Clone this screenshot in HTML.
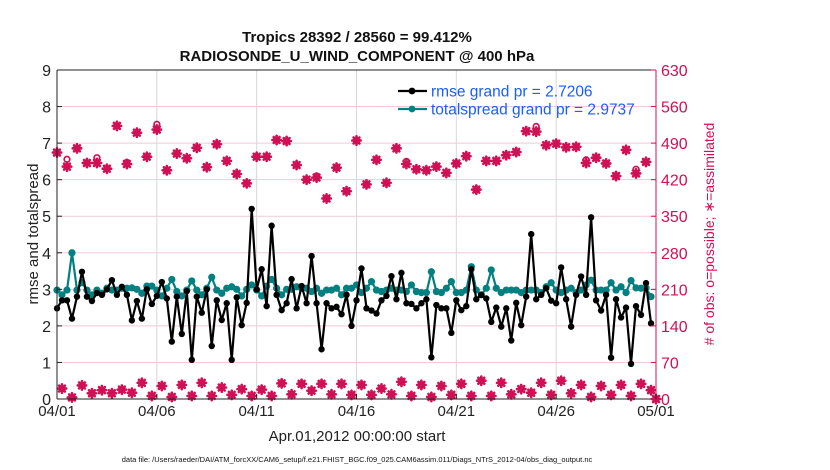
<!DOCTYPE html>
<html><head><meta charset="utf-8"><style>
html,body{margin:0;padding:0;background:#fff;}
svg{display:block;font-family:"Liberation Sans",Arial,sans-serif;}
</style></head><body>
<svg id="chart" width="830" height="470" viewBox="0 0 830 470" xmlns="http://www.w3.org/2000/svg">
<text x="357" y="42" text-anchor="middle" font-size="15" font-weight="bold" fill="#111">Tropics 28392 / 28560 = 99.412%</text>
<text x="357" y="61" text-anchor="middle" font-size="15" font-weight="bold" fill="#111">RADIOSONDE_U_WIND_COMPONENT @ 400 hPa</text>
<g id="grid"></g>
<g id="marks"></g>
<g id="axes"></g>
<text transform="translate(38,234) rotate(-90)" text-anchor="middle" font-size="15" fill="#222">rmse and totalspread</text>
<text transform="translate(714,234) rotate(-90)" text-anchor="middle" font-size="14" fill="#d01055"># of obs: o=possible; ∗=assimilated</text>
<text x="357" y="441" text-anchor="middle" font-size="15" fill="#222">Apr.01,2012 00:00:00 start</text>
<text x="357" y="462" text-anchor="middle" font-size="7.5" fill="#111">data file: /Users/raeder/DAI/ATM_forcXX/CAM6_setup/f.e21.FHIST_BGC.f09_025.CAM6assim.011/Diags_NTrS_2012-04/obs_diag_output.nc</text>
<g id="legend"></g>
</svg>
<script>
const xTickLabels = ["04/01","04/06","04/11","04/16","04/21","04/26","05/01"];
const xTickDays = [0,5,10,15,20,25,30];
const yTicks = [0,1,2,3,4,5,6,7,8,9];
const rTicks = [0,70,140,210,280,350,420,490,560,630];
const rmse = [
2.48,2.7,2.7,2.2,2.8,3.48,2.8,2.68,2.9,2.85,
3.0,3.25,2.85,3.07,2.85,2.15,2.68,2.2,3.0,2.6,
2.82,3.2,2.75,1.57,2.8,1.78,2.95,1.07,2.8,2.36,
3.0,1.45,2.7,2.16,2.62,1.07,2.78,2.02,2.63,5.2,
3.0,3.55,2.54,4.74,2.85,2.43,2.62,3.28,2.48,3.09,
2.62,3.91,2.62,1.36,2.62,2.48,2.52,2.32,2.85,2.0,
2.7,3.57,2.48,2.42,2.34,2.7,2.82,3.36,2.73,3.45,
2.62,2.6,2.48,2.62,2.73,1.14,2.57,2.48,2.48,1.81,
2.7,2.43,2.54,3.55,2.73,2.85,2.75,2.11,2.5,1.98,
2.48,1.6,2.63,2.02,2.8,4.51,2.73,2.85,3.03,2.69,
2.62,3.6,2.73,1.98,2.85,3.35,2.85,4.97,2.7,2.42,
2.85,1.13,2.73,2.23,2.5,0.96,2.54,2.3,3.17,2.07];
const spread = [
2.98,2.85,2.98,4.0,2.98,3.18,2.98,2.85,2.98,2.89,
3.03,2.98,2.98,3.03,3.03,3.04,3.0,2.89,3.09,3.09,
2.98,2.82,3.03,3.27,2.94,2.82,2.98,3.23,2.98,2.85,
3.03,3.33,2.98,2.89,3.03,3.07,3.0,2.82,3.0,3.12,
2.98,2.82,3.09,3.27,3.03,2.85,3.0,3.0,3.07,3.03,
3.03,2.94,3.03,2.89,2.98,2.98,3.03,2.85,3.03,3.03,
3.12,2.91,3.03,3.21,2.98,2.94,2.98,3.03,2.98,2.98,
2.94,3.12,2.94,2.91,2.91,3.48,2.94,2.91,3.03,3.21,
2.91,2.91,2.98,3.62,2.98,2.85,3.03,3.53,3.03,2.91,
2.98,2.98,2.98,2.91,2.98,2.98,2.98,2.91,3.07,3.18,
2.98,2.91,2.98,3.03,2.91,2.98,3.12,3.25,2.98,2.98,
2.98,3.18,2.98,3.07,2.91,3.24,3.04,3.03,3.04,2.8];
const assimilated = [
472,20,445,3,480,26,452,11,452,17,441,11,523,18,450,12,510,31,464,6,
516,25,438,4,470,27,461,6,481,31,444,6,488,22,456,8,431,19,413,6,
464,18,464,6,496,30,494,9,448,29,420,16,424,29,384,9,443,29,398,8,
495,27,411,8,458,20,414,9,480,33,450,6,440,27,438,4,445,25,433,8,
451,29,465,6,401,35,456,6,456,31,467,9,473,19,513,12,512,31,486,8,
489,35,482,11,483,27,452,4,462,25,451,8,427,27,477,6,432,29,454,17,0];
const possible = [
472,20,459,3,480,26,452,11,462,17,441,11,523,18,453,12,510,31,464,6,
526,25,438,4,470,27,461,6,481,31,444,6,488,22,456,8,431,19,413,6,
464,18,464,6,496,30,494,9,448,29,420,16,427,29,384,9,443,29,398,8,
495,27,411,8,458,20,414,9,480,33,455,6,440,27,438,4,445,25,433,8,
451,29,465,6,401,35,456,6,456,31,467,9,473,19,513,12,522,31,486,8,
489,35,482,11,483,27,458,4,462,25,451,8,427,27,477,6,440,29,454,17,0];

const X0=57, X1=656, Y0=399, Y1=70, NS="http://www.w3.org/2000/svg";
const MAG="#d01055", TEAL="#008080";
function xDay(d){return X0+(X1-X0)*d/30;}
function xIdx(i){return xDay(i*0.25);}
function yL(v){return Y0-(Y0-Y1)*v/9;}
function yR(c){return Y0-(Y0-Y1)*c/630;}
function mk(tag,attrs,parent){const e=document.createElementNS(NS,tag);for(const k in attrs)e.setAttribute(k,attrs[k]);parent.appendChild(e);return e;}
const grid=document.getElementById('grid'), marks=document.getElementById('marks'), axes=document.getElementById('axes'), legend=document.getElementById('legend');

yTicks.forEach(v=>{ if(v>0&&v<9){const l=mk('line',{x1:X0,x2:X1,y1:yL(v),y2:yL(v),stroke:'#f4c8d8','stroke-width':1},grid);

}});
xTickDays.forEach(d=>{ if(d>0&&d<30){const l=mk('line',{x1:xDay(d),x2:xDay(d),y1:Y1,y2:Y0,stroke:'#d8d8d8','stroke-width':1},grid);

}});

function star(cx,cy,parent){const g=mk('g',{stroke:MAG,'stroke-width':2.6,'stroke-linecap':'round'},parent);


const r=4.2;[[r,0],[0,r],[r*0.7,r*0.7],[r*0.7,-r*0.7]].forEach(p=>mk('line',{x1:cx-p[0],y1:cy-p[1],x2:cx+p[0],y2:cy+p[1]},g));}
possible.forEach((c,i)=>{const e=mk('circle',{cx:xIdx(i),cy:yR(c),r:2.8,fill:'none',stroke:MAG,'stroke-width':1.7},marks);

});
assimilated.forEach((c,i)=>star(xIdx(i),yR(c),marks));

function series(vals,color,name,sq){
 const pts=vals.map((v,i)=>xIdx(i).toFixed(1)+','+yL(v).toFixed(1)).join(' ');
 const pl=mk('polyline',{points:pts,fill:'none',stroke:color,'stroke-width':2.2,'stroke-linejoin':'round'},marks);
 
 
 vals.forEach((v,i)=>{const c=mk('circle',{cx:xIdx(i),cy:yL(v),r:sq?3.6:3.2,fill:color},marks);
 
 });
}
series(spread,TEAL,'totalspread',true);
series(rmse,'#000','rmse',false);

mk('line',{x1:X0,y1:Y1,x2:X0,y2:Y0,stroke:'#222','stroke-width':1},axes);
mk('line',{x1:X0,y1:Y1,x2:X1,y2:Y1,stroke:'#222','stroke-width':1},axes);
mk('line',{x1:X0,y1:Y0,x2:X1,y2:Y0,stroke:'#222','stroke-width':1},axes);
mk('line',{x1:X1,y1:Y1,x2:X1,y2:Y0,stroke:MAG,'stroke-width':1},axes);
yTicks.forEach(v=>{mk('line',{x1:X0,x2:X0+5,y1:yL(v),y2:yL(v),stroke:'#222'},axes);
const t=mk('text',{x:X0-6,y:yL(v)+6,'text-anchor':'end','font-size':16,fill:'#222'},axes);t.textContent=v;

});
rTicks.forEach(c=>{mk('line',{x1:X1-5,x2:X1,y1:yR(c),y2:yR(c),stroke:MAG},axes);
const t=mk('text',{x:X1+5,y:yR(c)+6,'text-anchor':'start','font-size':16,fill:MAG},axes);t.textContent=c;

});
xTickDays.forEach((d,k)=>{mk('line',{x1:xDay(d),x2:xDay(d),y1:Y0,y2:Y0-5,stroke:'#222'},axes);
const t=mk('text',{x:xDay(d),y:416,'text-anchor':'middle','font-size':15,fill:'#222'},axes);t.textContent=xTickLabels[k];

});

[[ 'rmse grand pr = 2.7206','#000',91,'legend-rmse'],['totalspread grand pr = 2.9737',TEAL,109,'legend-totalspread']].forEach(r=>{
 const g=mk('g',{},legend);
 
 
 mk('line',{x1:398,x2:427,y1:r[2],y2:r[2],stroke:r[1],'stroke-width':2.2},g);
 mk('circle',{cx:412,cy:r[2],r:3.4,fill:r[1]},g);
 const t=mk('text',{x:431,y:r[2]+5.5,'font-size':15.5,fill:'#1a5cff'},g);t.textContent=r[0];
});
</script>
</body></html>
